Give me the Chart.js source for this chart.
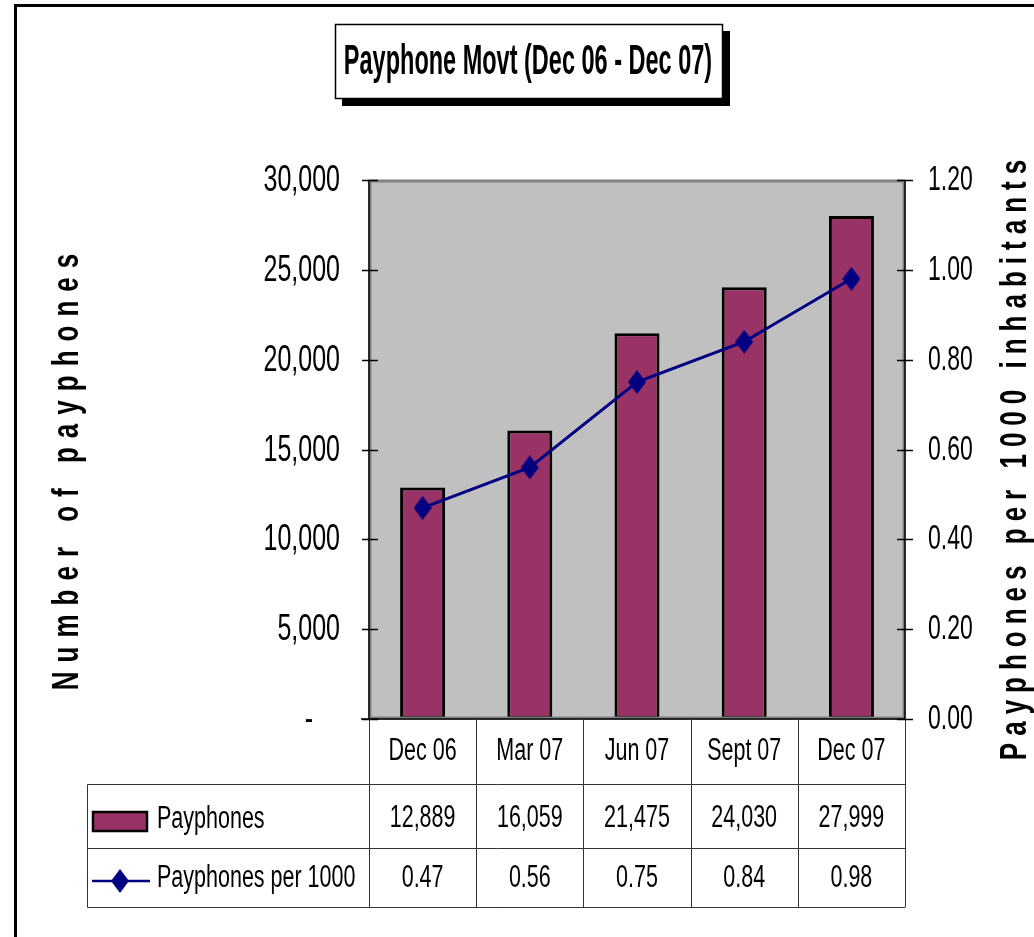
<!DOCTYPE html>
<html>
<head>
<meta charset="utf-8">
<title>Payphone Movt</title>
<script src="https://cdn.jsdelivr.net/npm/chart.js@4.4.1/dist/chart.umd.min.js"></script>
<style>
  html, body { margin: 0; padding: 0; background: #fff; }
  canvas { display: block; }
</style>
</head>
<body>
<canvas id="payChart" width="1034" height="937"></canvas>
<script>
// data
const periods = ["Dec 06", "Mar 07", "Jun 07", "Sept 07", "Dec 07"];
const payphones = [12889, 16059, 21475, 24030, 27999];
const perThousand = [0.47, 0.56, 0.75, 0.84, 0.98];

const chartTitle = "Payphone Movt (Dec 06 - Dec 07)";
const leftTitle = "Number of payphones";
const rightTitle = "Payphones per 1000 inhabitants";
const seriesNames = ["Payphones", "Payphones per 1000"];

const FAMILY = '"Liberation Sans", Arial, sans-serif';
const BAR_COLOR = "#993366";
const LINE_COLOR = "#000080";

// the source text is tall and narrow, so glyphs get stretched vertically
function drawText(ctx, s, x, y, o) {
    ctx.save();
    ctx.translate(x, y);
    if (o.rot) ctx.rotate(o.rot);
    ctx.scale(1, o.sy || 1);
    ctx.font = (o.bold ? "bold " : "") + o.size + "px " + FAMILY;
    ctx.letterSpacing = (o.ls || 0) + "px";
    ctx.textAlign = o.align || "center";
    ctx.textBaseline = "middle";
    ctx.fillStyle = "#000";
    ctx.fillText(s, o.align === "center" || !o.align ? (o.ls || 0) / 2 : 0, 0);
    ctx.restore();
}

// tall diamond marker
function diamond(w, h) {
    const c = document.createElement("canvas");
    c.width = w; c.height = h;
    const g = c.getContext("2d");
    g.fillStyle = LINE_COLOR;
    g.beginPath();
    g.moveTo(w / 2, 0);
    g.lineTo(w, h / 2);
    g.lineTo(w / 2, h);
    g.lineTo(0, h / 2);
    g.closePath();
    g.fill();
    return c;
}
const marker = diamond(18, 24);

function fmtLeft(v) {
    return v === 0 ? "-" : v.toLocaleString("en-US");
}

const decor = {
    id: "decor",
    beforeDraw(chart) {
        const { ctx, chartArea: a } = chart;
        ctx.save();
        ctx.fillStyle = "#c0c0c0";
        ctx.fillRect(a.left, a.top, a.right - a.left, a.bottom - a.top);
        ctx.restore();
    },
    afterDraw(chart) {
        const { ctx, chartArea: a, scales } = chart;
        const x = scales.x, yl = scales.y, yr = scales.y1;
        ctx.save();

        // outer frame
        ctx.strokeStyle = "#000";
        ctx.lineWidth = 3;
        ctx.beginPath();
        ctx.moveTo(15.5, 937);
        ctx.lineTo(15.5, 5.5);
        ctx.lineTo(1034, 5.5);
        ctx.stroke();

        // title box with shadow
        ctx.fillStyle = "#000";
        ctx.fillRect(342, 31, 388, 75);
        ctx.fillStyle = "#fff";
        ctx.fillRect(335, 24, 388, 75);
        ctx.lineWidth = 1.5;
        ctx.strokeRect(335.5, 24.5, 387, 74);
        drawText(ctx, chartTitle, 528, 62, { size: 23.5, bold: true, sy: 1.8 });

        // plot border
        ctx.strokeStyle = "#808080";
        ctx.lineWidth = 3;
        ctx.strokeRect(a.left + 1, a.top + 1, a.right - a.left - 2, a.bottom - a.top - 2);
        ctx.strokeStyle = "#000";
        ctx.lineWidth = 1.5;
        ctx.beginPath();
        ctx.moveTo(a.left, a.top);
        ctx.lineTo(a.left, a.bottom);
        ctx.moveTo(a.right, a.top);
        ctx.lineTo(a.right, a.bottom);
        ctx.moveTo(a.left - 8, a.bottom);
        ctx.lineTo(a.right, a.bottom);
        ctx.stroke();

        // ticks + labels
        ctx.lineWidth = 1.5;
        yl.ticks.forEach(t => {
            const py = Math.round(yl.getPixelForValue(t.value)) + 0.5;
            ctx.beginPath();
            ctx.moveTo(a.left - 7, py);
            ctx.lineTo(a.left + 9, py);
            ctx.stroke();
            const s = fmtLeft(t.value);
            drawText(ctx, s, s === "-" ? a.left - 56 : a.left - 29, py, { size: 25, sy: 1.5, align: "right" });
        });
        yr.ticks.forEach(t => {
            const py = Math.round(yr.getPixelForValue(t.value)) + 0.5;
            ctx.beginPath();
            ctx.moveTo(a.right - 8, py);
            ctx.lineTo(a.right + 8, py);
            ctx.stroke();
            drawText(ctx, t.value.toFixed(2), a.right + 23, py, { size: 23, sy: 1.52, align: "left" });
        });

        // axis titles
        drawText(ctx, leftTitle, 68, 472, { size: 26, bold: true, sy: 1.45, rot: -Math.PI / 2, ls: 9 });
        drawText(ctx, rightTitle, 1016, 460, { size: 26, bold: true, sy: 1.45, rot: -Math.PI / 2, ls: 7 });

        // data table
        const half = (a.right - a.left) / periods.length / 2;
        const rowTop = a.bottom, row1 = 784.5, row2 = 848.5, rowEnd = 907.5, tableLeft = 87.5;
        ctx.strokeStyle = "#333";
        ctx.lineWidth = 1;
        ctx.beginPath();
        [row1, row2, rowEnd].forEach(ry => {
            ctx.moveTo(tableLeft, ry);
            ctx.lineTo(a.right, ry);
        });
        ctx.moveTo(tableLeft, row1);
        ctx.lineTo(tableLeft, rowEnd);
        periods.forEach((p, i) => {
            const cx = x.getPixelForValue(i);
            const bx = Math.round(cx - half) + 0.5;
            ctx.moveTo(bx, rowTop);
            ctx.lineTo(bx, rowEnd);
        });
        ctx.moveTo(Math.round(a.right) + 0.5, rowTop);
        ctx.lineTo(Math.round(a.right) + 0.5, rowEnd);
        ctx.stroke();

        const tf = { size: 21.5, sy: 1.5 };
        periods.forEach((p, i) => {
            const cx = x.getPixelForValue(i);
            drawText(ctx, p, cx, 751, tf);
            drawText(ctx, payphones[i].toLocaleString("en-US"), cx, 818, tf);
            drawText(ctx, perThousand[i].toFixed(2), cx, 878, tf);
        });

        // legend keys
        ctx.fillStyle = BAR_COLOR;
        ctx.fillRect(93, 812, 54, 19);
        ctx.strokeStyle = "#000";
        ctx.lineWidth = 2.5;
        ctx.strokeRect(93, 812, 54, 19);
        drawText(ctx, seriesNames[0], 157, 819, Object.assign({ align: "left" }, tf));

        ctx.strokeStyle = LINE_COLOR;
        ctx.lineWidth = 2.5;
        ctx.beginPath();
        ctx.moveTo(92, 881);
        ctx.lineTo(150, 881);
        ctx.stroke();
        ctx.drawImage(marker, 111, 869);
        drawText(ctx, seriesNames[1], 157, 878, Object.assign({ align: "left" }, tf));

        ctx.restore();
    }
};

const chart = new Chart(document.getElementById("payChart"), {
    data: {
        labels: periods,
        datasets: [
            {
                type: "line",
                label: seriesNames[1],
                data: perThousand,
                yAxisID: "y1",
                borderColor: LINE_COLOR,
                borderWidth: 3,
                pointStyle: marker,
                tension: 0,
                order: 0,
            },
            {
                type: "bar",
                label: seriesNames[0],
                data: payphones,
                yAxisID: "y",
                backgroundColor: BAR_COLOR,
                borderColor: "#000",
                borderWidth: 3,
                borderSkipped: false,
                categoryPercentage: 1,
                barPercentage: 0.42,
                order: 1,
            },
        ],
    },
    options: {
        responsive: false,
        animation: false,
        devicePixelRatio: 1,
        layout: { padding: { top: 180, bottom: 218, left: 0, right: 0 } },
        plugins: {
            legend: { display: false },
            title: { display: false },
            tooltip: { enabled: false },
        },
        scales: {
            x: { display: false },
            y: {
                position: "left",
                min: 0, max: 30000,
                ticks: { stepSize: 5000, display: false },
                grid: { display: false },
                border: { display: false },
                afterFit(s) { s.width = 369; },
            },
            y1: {
                position: "right",
                min: 0, max: 1.2,
                ticks: { stepSize: 0.2, display: false },
                grid: { display: false },
                border: { display: false },
                afterFit(s) { s.width = 129; },
            },
        },
    },
    plugins: [decor],
});
</script>
</body>
</html>
